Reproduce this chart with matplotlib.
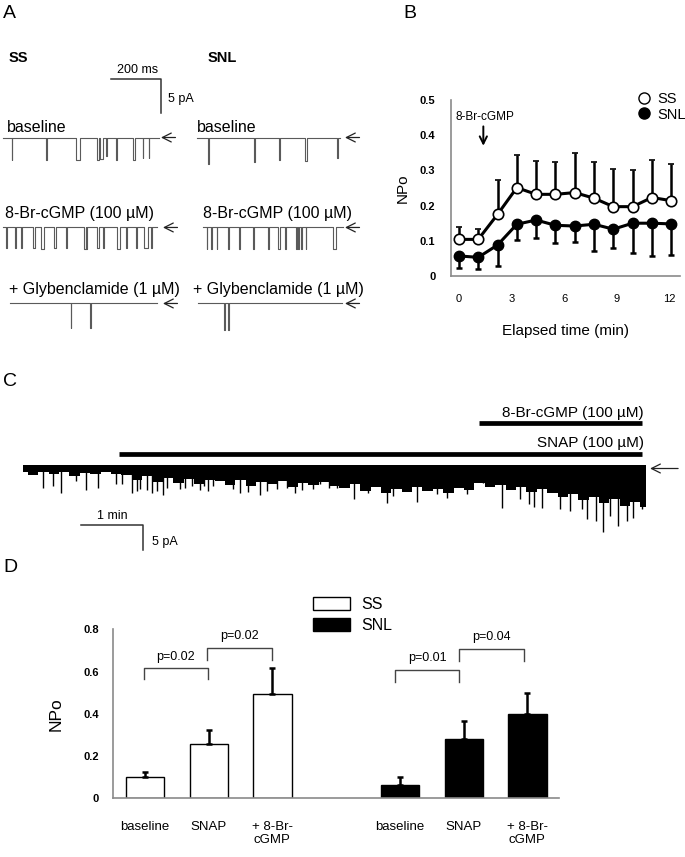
import numpy as np
import matplotlib
matplotlib.use("Agg")
import matplotlib.pyplot as plt
from matplotlib.lines import Line2D
from matplotlib.patches import Patch

plt.rcParams['font.family'] = ['Liberation Sans', 'DejaVu Sans']

W, H = 685, 857

# ---------------- panel A: single channel traces (ms, pA) ----------------
# events are (start ms, duration ms, amplitude pA)
ss_base_events = [(36, 3, 3.3), (173, 3, 3.3), (293, 16, 3.3), (376, 10, 3.3), (390, 10, 3.2),
                  (413, 3, 2.7), (453, 3, 3.3), (520, 9, 3.3), (560, 3, 3.1), (584, 3, 3.1)]
ss_cgmp_events = [(13, 5, 3.1), (50, 4, 3.1), (74, 5, 3.1), (122, 8, 3.1), (154, 11, 3.2),
                  (205, 7, 3.1), (252, 4, 3.0), (325, 8, 3.2), (334, 5, 3.2), (378, 7, 3.1),
                  (402, 4, 3.0), (456, 13, 3.2), (493, 4, 3.0), (532, 7, 3.1), (565, 16, 3.1),
                  (594, 5, 3.0)]
ss_glyb_events = [(272, 3, 3.7), (350, 3, 3.7)]
snl_base_events = [(46, 3, 3.9), (230, 3, 3.6), (329, 3, 3.4), (433, 10, 3.5), (562, 3, 3.1)]
snl_cgmp_events = [(40, 3, 3.2), (57, 3, 3.2), (80, 3, 3.2), (126, 4, 3.2), (169, 6, 3.2),
                   (226, 3, 3.2), (286, 3, 3.2), (326, 6, 3.2), (353, 4, 3.2), (396, 4, 3.2),
                   (406, 3, 3.2), (417, 4, 3.2), (436, 3, 3.2), (547, 10, 3.2)]
snl_glyb_events = [(109, 3, 4.0), (125, 3, 4.0)]

# trace extents (ms, relative to column start)
ss_spans = [(0, 625), (0, 616), (29, 616)]
snl_spans = [(0, 573), (27, 584), (5, 580)]
row_labels = ["baseline", "8-Br-cGMP (100 µM)", "+ Glybenclamide (1 µM)"]

# ---------------- panel B: time course ----------------
time_min = [0, 1.1, 2.2, 3.3, 4.4, 5.5, 6.6, 7.7, 8.8, 9.9, 11.0, 12.1]
ss_npo = [0.104, 0.104, 0.175, 0.251, 0.232, 0.232, 0.237, 0.221, 0.197, 0.197, 0.223, 0.214]
ss_top = [0.140, 0.134, 0.273, 0.344, 0.328, 0.323, 0.350, 0.325, 0.303, 0.301, 0.330, 0.318]
snl_npo = [0.057, 0.053, 0.088, 0.147, 0.159, 0.144, 0.142, 0.147, 0.133, 0.150, 0.150, 0.148]
snl_bot = [0.022, 0.019, 0.027, 0.102, 0.109, 0.093, 0.096, 0.072, 0.079, 0.066, 0.057, 0.060]

# ---------------- panel C: long recording (min, pA) ----------------
env_t = [0.00, 0.17, 0.33, 0.50, 0.67, 0.83, 1.00, 1.17, 1.33, 1.50,
         1.67, 1.83, 2.00, 2.17, 2.33, 2.50, 2.67, 2.83, 3.00, 3.17,
         3.33, 3.50, 3.67, 3.83, 4.00, 4.17, 4.33, 4.50, 4.67, 4.83,
         5.00, 5.17, 5.33, 5.50, 5.67, 5.83, 6.00, 6.17, 6.33, 6.50,
         6.67, 6.83, 7.00, 7.17, 7.33, 7.50, 7.67, 7.83, 8.00, 8.17,
         8.33, 8.50, 8.67, 8.83, 9.00, 9.17, 9.33, 9.50, 9.67, 9.83, 10.00]
env_depth = [0.9, 1.4, 0.8, 1.2, 0.9, 1.6, 1.0, 1.3, 0.9, 1.2,
             1.5, 2.4, 1.6, 2.8, 2.0, 3.0, 2.2, 3.2, 2.5, 2.6,
             3.4, 2.4, 3.6, 2.8, 3.3, 2.6, 3.8, 3.0, 3.5, 2.9,
             3.6, 4.0, 3.3, 4.6, 3.8, 5.0, 4.2, 4.8, 3.9, 4.6,
             4.2, 5.0, 4.0, 4.5, 3.0, 3.8, 3.4, 4.4, 3.8, 4.8,
             4.2, 5.0, 5.8, 5.2, 6.4, 5.8, 7.0, 6.2, 7.6, 6.8, 7.8]
spike_t = [0.33, 0.49, 0.61, 0.86, 1.02, 1.21, 1.50, 1.59, 1.75, 1.83, 1.88, 1.99, 2.07, 2.15,
           2.26, 2.31, 2.52, 2.61, 2.71, 2.85, 2.91, 2.98, 3.06, 3.38, 3.49, 3.62, 3.81, 3.92,
           4.08, 4.24, 4.37, 4.48, 4.66, 4.77, 4.91, 5.04, 5.31, 5.55, 5.84, 5.95, 6.33, 6.65,
           6.81, 7.13, 7.39, 7.69, 7.98, 8.12, 8.20, 8.33, 8.62, 8.78, 8.97, 9.06, 9.21, 9.32,
           9.43, 9.56, 9.70, 9.80, 9.94]
spike_depth = [4.1, 3.7, 5.0, 2.7, 4.5, 4.1, 3.3, 3.3, 5.0, 4.7, 4.3, 4.5, 5.0, 4.7,
               5.5, 4.0, 4.3, 4.0, 3.7, 4.5, 3.7, 4.7, 3.7, 4.3, 5.0, 4.8, 5.5, 4.7,
               4.3, 4.0, 5.0, 4.5, 4.3, 3.3, 4.0, 4.0, 6.2, 5.0, 7.0, 5.7, 6.9, 5.3,
               6.0, 5.3, 3.0, 8.0, 6.3, 7.3, 7.8, 8.0, 8.3, 8.7, 8.2, 10.3, 10.7, 12.9,
               9.7, 11.7, 10.7, 10.0, 8.3]
snap_on, cgmp_on, drug_off, rec_end = 1.55, 7.33, 9.94, 10.0

# ---------------- panel D: bar summary ----------------
bar_labels = ["baseline", "SNAP", "+ 8-Br-\ncGMP"]
ss_bar = [0.103, 0.256, 0.492]
ss_bar_err = [0.023, 0.069, 0.126]
snl_bar = [0.065, 0.283, 0.401]
snl_bar_err = [0.034, 0.083, 0.096]
# (x1, x2, bracket top, leg length, label)
brackets = [(-0.02, 0.99, 0.615, 0.052, "p=0.02"), (0.98, 2.0, 0.713, 0.058, "p=0.02"),
            (3.93, 4.93, 0.607, 0.055, "p=0.01"), (4.92, 5.94, 0.707, 0.057, "p=0.04")]


def rect(x0, y0, x1, y1):
    # pixel box -> figure fraction
    return [x0 / W, 1 - y1 / H, (x1 - x0) / W, (y1 - y0) / H]


def trace_xy(span, events, x0, y0):
    xs, ys = [span[0] + x0], [y0]
    for t, d, a in events:
        xs += [t + x0, t + x0, t + d + x0, t + d + x0]
        ys += [y0, y0 - a, y0 - a, y0]
    xs.append(span[1] + x0)
    ys.append(y0)
    return xs, ys


def left_arrow(ax, tip, length, y, scale=16):
    ax.annotate('', xy=(tip, y), xytext=(tip + length, y),
                arrowprops=dict(arrowstyle='->', lw=0.9, color='#222', mutation_scale=scale,
                                shrinkA=0, shrinkB=0))


fig = plt.figure(figsize=(W / 100, H / 100), dpi=100)

# ---- A ----
axA = fig.add_axes(rect(0, 40, 380, 335))
axA.set_xlim(-10.8, 1509)
axA.set_ylim(-29.57, 14.6)
axA.axis('off')
row_y = [0, -13.47, -24.85]
col_x = [0, 776]
tcol = '#5a5a5a'
for col, (spans, evs) in enumerate([(ss_spans, [ss_base_events, ss_cgmp_events, ss_glyb_events]),
                                    (snl_spans, [snl_base_events, snl_cgmp_events, snl_glyb_events])]):
    for r in range(3):
        xs, ys = trace_xy(spans[r], evs[r], col_x[col], row_y[r])
        axA.plot(xs, ys, color=tcol, lw=0.8)
        tip = [633, 1369][col] + (0 if (r == 0 or col == 1) else 8)
        left_arrow(axA, tip, 58, row_y[r])
lab_x = [[16, 9, 26], [776, 800, 760]]
lab_dy = [1.47, 2.12, 2.05]
for col in range(2):
    for r in range(3):
        axA.text(lab_x[col][r], row_y[r] + lab_dy[r], row_labels[r], fontsize=11.5,
                 ha='left', va='center')
axA.text(25, 11.9, "SS", fontsize=10.5, fontweight='bold', va='center')
axA.text(821, 11.9, "SNL", fontsize=10.5, fontweight='bold', va='center')
axA.plot([433, 633, 633], [8.71, 8.71, 3.71], color='#333', lw=1.1)
axA.text(538, 9.2, "200 ms", fontsize=9, ha='center', va='bottom')
axA.text(661, 5.7, "5 pA", fontsize=9, ha='left', va='center')

# ---- B ----
axB = fig.add_axes(rect(450.7, 100, 680, 276))
axB.set_xlim(-0.47, 12.6)
axB.set_ylim(0, 0.5)
for s in ['top', 'right']:
    axB.spines[s].set_visible(False)
for s in ['left', 'bottom']:
    axB.spines[s].set_color('#8a8a8a')
    axB.spines[s].set_linewidth(1.2)
ss_up = np.array(ss_top) - np.array(ss_npo)
snl_dn = np.array(snl_npo) - np.array(snl_bot)
axB.errorbar(time_min, snl_npo, yerr=[snl_dn, np.zeros_like(snl_dn)], color='black', lw=2.2,
             elinewidth=1.8, capsize=2.5, capthick=1.8, marker='o', ms=7.5, mfc='black',
             mec='black', zorder=2)
axB.errorbar(time_min, ss_npo, yerr=[np.zeros_like(ss_up), ss_up], color='black', lw=2.2,
             elinewidth=1.8, capsize=2.5, capthick=1.8, marker='o', ms=7.5, mfc='white',
             mec='black', mew=1.2, zorder=3)
axB.set_xticks([0, 3, 6, 9, 12])
axB.set_yticks([0, 0.1, 0.2, 0.3, 0.4, 0.5])
axB.set_yticklabels(["0", "0.1", "0.2", "0.3", "0.4", "0.5"], fontweight='bold')
axB.tick_params(axis='x', length=0, pad=13, labelsize=8)
axB.tick_params(axis='y', length=0, pad=11, labelsize=8)
axB.set_xlabel("Elapsed time (min)", fontsize=11, labelpad=14)
axB.set_ylabel("NPo", fontsize=11, labelpad=7)
axB.text(1.48, 0.451, "8-Br-cGMP", fontsize=8.5, ha='center', va='center')
axB.annotate('', xy=(1.39, 0.37), xytext=(1.39, 0.425),
             arrowprops=dict(arrowstyle='->', lw=1.4, color='black', mutation_scale=13,
                             shrinkA=0, shrinkB=0))
hB = [Line2D([], [], ls='none', marker='o', ms=8, mfc='white', mec='black'),
      Line2D([], [], ls='none', marker='o', ms=8, mfc='black', mec='black')]
axB.legend(hB, ["SS", "SNL"], loc='upper left', bbox_to_anchor=(0.81, 1.045), frameon=False,
           fontsize=10.5, handlelength=1.0, handletextpad=0.4, borderpad=0, borderaxespad=0,
           labelspacing=0.1)

# ---- C ----
axC = fig.add_axes(rect(0, 395, 685, 560))
axC.set_xlim(-22.7 / 62.3, (685 - 22.7) / 62.3)
axC.set_ylim(-18.5, 14.5)
axC.axis('off')
axC.fill_between(env_t, 0.45, -np.array(env_depth), step='mid', color='black', lw=0)
axC.vlines(spike_t, 0, -np.array(spike_depth), color='black', lw=1.0)
axC.plot([snap_on, drug_off], [2.64, 2.64], color='black', lw=3.4, solid_capstyle='butt')
axC.plot([cgmp_on, drug_off], [8.84, 8.84], color='black', lw=3.4, solid_capstyle='butt')
axC.text(9.97, 10.96, "8-Br-cGMP (100 µM)", fontsize=11, ha='right', va='center')
axC.text(9.97, 4.96, "SNAP (100 µM)", fontsize=11, ha='right', va='center')
left_arrow(axC, rec_end + 0.07, 0.45, -0.2)
axC.plot([0.936, 1.936, 1.936], [-11.5, -11.5, -16.5], color='#333', lw=1.1)
axC.text(1.44, -10.9, "1 min", fontsize=9, ha='center', va='bottom')
axC.text(2.07, -14.8, "5 pA", fontsize=9, ha='left', va='center')

# ---- D ----
axD = fig.add_axes(rect(113, 629.3, 559.3, 798.3))
pos_ss = [0, 1, 2]
pos_snl = [4, 5, 6]
axD.bar(pos_ss, ss_bar, width=0.6, color='white', edgecolor='black', lw=1.0, zorder=2)
axD.bar(pos_snl, snl_bar, width=0.6, color='black', edgecolor='black', lw=1.0, zorder=2)
axD.errorbar(pos_ss, ss_bar, yerr=[np.zeros(3), ss_bar_err], fmt='none', ecolor='black',
             elinewidth=1.8, capsize=2.5, capthick=1.8, zorder=3)
axD.errorbar(pos_snl, snl_bar, yerr=[np.zeros(3), snl_bar_err], fmt='none', ecolor='black',
             elinewidth=1.8, capsize=2.5, capthick=1.8, zorder=3)
for x1, x2, top, leg, lab in brackets:
    axD.plot([x1, x1, x2, x2], [top - leg, top, top, top - leg], color='#444', lw=1.0)
    axD.text((x1 + x2) / 2, top + 0.055, lab, fontsize=9, ha='center', va='center')
axD.set_xlim(-0.5, 6.5)
axD.set_ylim(0, 0.8)
for s in ['top', 'right']:
    axD.spines[s].set_visible(False)
for s in ['left', 'bottom']:
    axD.spines[s].set_color('#8a8a8a')
    axD.spines[s].set_linewidth(1.2)
axD.set_yticks([0, 0.2, 0.4, 0.6, 0.8])
axD.set_yticklabels(["0", "0.2", "0.4", "0.6", "0.8"], fontweight='bold')
axD.set_xticks(pos_ss + pos_snl)
axD.set_xticklabels(bar_labels + bar_labels, fontsize=9.5, va='top')
axD.tick_params(axis='x', length=0, pad=16)
axD.tick_params(axis='y', length=0, pad=10, labelsize=8)
axD.set_ylabel("NPo", fontsize=12.5, labelpad=14)
hD = [Patch(facecolor='white', edgecolor='black', lw=1.0),
      Patch(facecolor='black', edgecolor='black', lw=1.0)]
axD.legend(hD, ["SS", "SNL"], loc='upper left', bbox_to_anchor=(0.448, 1.19), frameon=False,
           fontsize=11.5, handlelength=2.3, handleheight=0.9, handletextpad=0.7,
           borderpad=0, borderaxespad=0, labelspacing=0.35)

# panel letters
for letter, (px, py) in zip("ABCD", [(3, 14), (403, 13.5), (3, 381), (3, 568)]):
    fig.text(px / W, 1 - py / H, letter, fontsize=14, ha='left', va='center')

fig.savefig("out.png", dpi=100)
